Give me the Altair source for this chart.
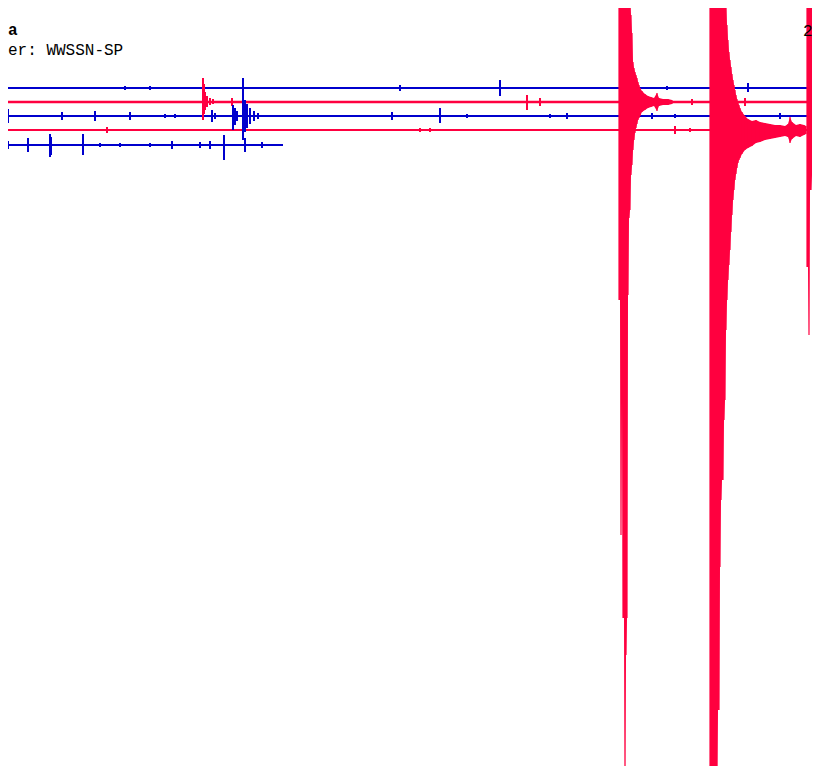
import altair as alt
import pandas as pd

# ---- helicorder rows (trace baselines) ----
row_names = ["r0", "r1", "r2", "r3", "r4"]
row_base = [88, 102, 116, 130, 145]
row_color = ["#0000cd", "#ff0040", "#0000cd", "#ff0040", "#0000cd"]
row_start = [0, 0, 0, 0, 0]
row_end = [820, 820, 820, 820, 283]
row_width = [2, 2.4, 2, 2, 2]

# ---- small bursts: row index, time position, top, bottom ----
burst_row = [0, 0, 0, 0, 0, 0,
             1, 1, 1, 1, 1, 1, 1, 1, 1, 1, 1,
             2, 2, 2, 2, 2, 2, 2, 2, 2, 2, 2, 2, 2, 2, 2, 2, 2, 2, 2, 2, 2, 2, 2, 2, 2,
             3, 3, 3, 3, 3,
             4, 4, 4, 4, 4, 4, 4, 4, 4, 4, 4, 4, 4, 4]
burst_x = [125, 150, 400, 500, 667, 748,
           203, 204, 205, 207, 210, 213, 232, 527, 540, 692, 745,
           8, 62, 95, 130, 165, 175, 212, 215, 233, 235, 237, 243, 245, 247, 250, 254, 258,
           392, 440, 467, 550, 567, 652, 675, 780,
           107, 420, 430, 675, 690,
           8, 28, 50, 51, 83, 100, 120, 150, 172, 200, 210, 224, 245, 262]
burst_top = [86, 86, 85, 80, 86, 83,
             78, 84, 92, 96, 98, 99, 98, 95, 98, 99, 98,
             109, 112, 111, 112, 114, 114, 110, 113, 105, 108, 111, 78, 100, 104, 108, 111, 113,
             112, 108, 114, 114, 113, 113, 114, 113,
             127, 128, 128, 126, 128,
             141, 138, 134, 137, 134, 143, 143, 143, 141, 142, 141, 135, 138, 142]
burst_bot = [90, 90, 91, 96, 90, 92,
             120, 114, 110, 107, 105, 104, 106, 110, 106, 105, 106,
             123, 120, 121, 120, 118, 118, 122, 119, 130, 125, 121, 140, 132, 128, 124, 121, 119,
             120, 123, 118, 118, 119, 119, 118, 119,
             133, 132, 132, 134, 132,
             149, 152, 157, 155, 155, 147, 147, 147, 149, 148, 149, 160, 152, 148]

# ---- large earthquakes: envelope per column (top, bottom) ----
evA_x = [619, 620, 621, 622, 623, 624, 625, 626, 627, 628, 629, 630, 631, 632, 633,
         634, 635, 636, 637, 638, 639, 640, 642, 645, 648, 651, 654, 657, 659, 663, 668, 672]
evA_top = [0, 0, 0, 0, 0, 0, 0, 0, 0, 0, 0, 0, 15, 33, 62,
           68, 72, 75, 78, 82, 85, 88, 91, 94, 96, 97, 98, 93, 98, 99, 99, 100]
evA_bot = [300, 300, 535, 400, 618, 618, 780, 655, 618, 295, 218, 210, 175, 165, 150,
           140, 133, 128, 124, 120, 118, 116, 112, 110, 108, 107, 106, 111, 106, 105, 105, 104]

evB_x = [710, 711, 712, 713, 714, 715, 716, 717, 718, 719, 720, 721, 722, 723, 724, 725,
         726, 727, 728, 729, 730, 731, 732, 733, 734, 735, 736, 737, 738, 739, 740, 742,
         745, 748, 752, 756, 760, 765, 770, 775, 780, 785, 788, 790, 792, 796, 800, 804, 806]
evB_top = [0, 0, 0, 0, 0, 0, 0, 0, 0, 0, 0, 0, 0, 0, 0, 0,
           5, 25, 40, 52, 60, 67, 74, 80, 85, 90, 95, 99, 103, 105, 108, 112,
           116, 119, 121, 120, 122, 123, 124, 125, 125, 126, 124, 117, 122, 125, 124, 125, 126]
evB_bot = [780, 780, 780, 780, 780, 780, 780, 780, 710, 710, 567, 500, 480, 480, 420, 400,
           330, 300, 280, 265, 250, 232, 215, 200, 190, 180, 174, 168, 163, 160, 158, 154,
           150, 148, 146, 143, 142, 140, 139, 138, 137, 136, 137, 143, 139, 136, 137, 135, 134]

evC_x = [807, 808, 809, 810, 811, 812, 813, 814, 816, 818, 820]
evC_top = [0, 0, 0, 0, 0, 0, 95, 108, 112, 115, 117]
evC_bot = [267, 267, 335, 190, 190, 175, 160, 155, 150, 148, 146]

# ---- labels ----
label_text = ["a", "er: WWSSN-SP", "2"]
label_x = [8, 8, 803]
label_y = [35, 55, 36]
label_align = ["left", "left", "left"]
label_weight = ["bold", "normal", "normal"]

# ---------------------------------------------------------------
X = alt.Scale(domain=[8, 812], nice=False, zero=False)
Y = alt.Scale(domain=[8, 766], reverse=True, nice=False, zero=False)

base_df = pd.DataFrame({"row": row_names, "y": row_base, "x0": row_start,
                        "x1": row_end, "color": row_color, "w": row_width})
burst_df = pd.DataFrame({"x": burst_x, "top": burst_top, "bot": burst_bot,
                         "color": [row_color[r] for r in burst_row]})
ev_df = pd.concat([
    pd.DataFrame({"event": "A", "x": evA_x, "top": evA_top, "bot": evA_bot}),
    pd.DataFrame({"event": "B", "x": evB_x, "top": evB_top, "bot": evB_bot}),
    pd.DataFrame({"event": "C", "x": evC_x, "top": evC_top, "bot": evC_bot}),
])

lines = alt.Chart(base_df).mark_rule(clip=True).encode(
    x=alt.X("x0:Q", scale=X, axis=None),
    x2="x1:Q",
    y=alt.Y("y:Q", scale=Y, axis=None),
    color=alt.Color("color:N", scale=None),
    strokeWidth=alt.StrokeWidth("w:Q", scale=None),
)

bursts = alt.Chart(burst_df).mark_rule(clip=True, strokeWidth=2).encode(
    x=alt.X("x:Q", scale=X, axis=None),
    y=alt.Y("top:Q", scale=Y, axis=None),
    y2="bot:Q",
    color=alt.Color("color:N", scale=None),
)

ev_area = alt.Chart(ev_df).mark_area(clip=True, color="#ff0040", interpolate="linear").encode(
    x=alt.X("x:Q", scale=X, axis=None),
    y=alt.Y("top:Q", scale=Y, axis=None),
    y2="bot:Q",
    detail="event:N",
)
ev_rules = alt.Chart(ev_df).mark_rule(clip=True, color="#ff0040", strokeWidth=1.2).encode(
    x=alt.X("x:Q", scale=X, axis=None),
    y=alt.Y("top:Q", scale=Y, axis=None),
    y2="bot:Q",
)

layers = [lines, bursts, ev_area, ev_rules]
for t, lx, ly, al, fw in zip(label_text, label_x, label_y, label_align, label_weight):
    layers.append(
        alt.Chart(pd.DataFrame({"t": [t], "x": [lx], "y": [ly]})).mark_text(
            align=al, baseline="alphabetic", font="Liberation Mono", fontSize=16,
            fontWeight=fw, color="black"
        ).encode(
            x=alt.X("x:Q", scale=X, axis=None),
            y=alt.Y("y:Q", scale=Y, axis=None),
            text="t:N",
        )
    )

chart = alt.layer(*layers).properties(
    width=804, height=758, autosize=alt.AutoSizeParams(type="none"), padding=0,
    background="white",
).configure_view(stroke=None)

chart.save("out.html", embed_options={"renderer": "svg", "actions": False})
